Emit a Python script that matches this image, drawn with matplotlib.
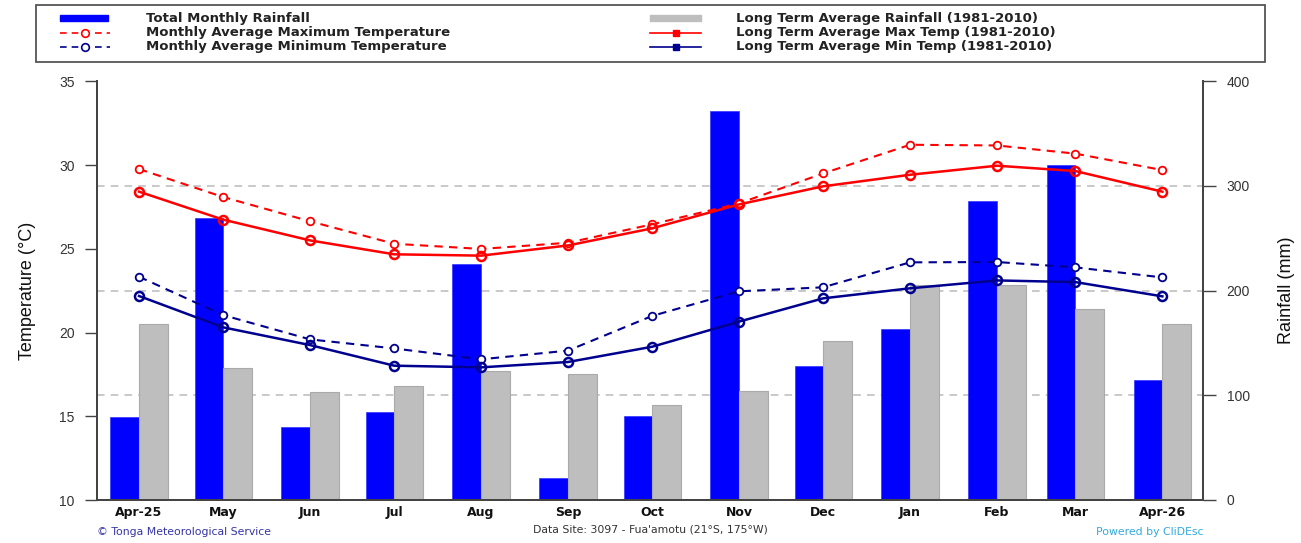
import numpy as np
import matplotlib
matplotlib.use("Agg")
import matplotlib.pyplot as plt
from matplotlib.lines import Line2D
from matplotlib.patches import Rectangle

plt.rcParams['font.family'] = ['Liberation Sans', 'DejaVu Sans']

# ---------------- data ----------------
month_starts = ['2025-04-01', '2025-05-01', '2025-06-01', '2025-07-01', '2025-08-01',
                '2025-09-01', '2025-10-01', '2025-11-01', '2025-12-01', '2026-01-01',
                '2026-02-01', '2026-03-01', '2026-04-01']
month_labels = ['Apr-25', 'May', 'Jun', 'Jul', 'Aug', 'Sep', 'Oct', 'Nov', 'Dec',
                'Jan', 'Feb', 'Mar', 'Apr-26']

rain_total = [79.6, 269.1, 69.7, 83.8, 225.5, 20.7, 79.9, 371.7, 128.0, 163.4, 286.0, 320.1, 115.0]
rain_lta = [167.8, 126.4, 103.2, 108.9, 123.2, 120.7, 90.8, 104.1, 152.2, 205.4, 205.1, 182.2, 167.8]

tmax_month = [29.76, 28.09, 26.64, 25.30, 24.99, 25.36, 26.46, 27.71, 29.50, 31.21, 31.17, 30.68, 29.70]
tmin_month = [23.33, 21.04, 19.59, 19.05, 18.40, 18.92, 20.99, 22.46, 22.70, 24.19, 24.21, 23.89, 23.29]
tmax_lta = [28.41, 26.74, 25.50, 24.67, 24.59, 25.20, 26.22, 27.65, 28.73, 29.42, 29.96, 29.64, 28.41]
tmin_lta = [22.18, 20.31, 19.25, 18.02, 17.92, 18.24, 19.15, 20.65, 22.04, 22.64, 23.11, 23.01, 22.16]

temp_ticks = [10, 15, 20, 25, 30, 35]
rain_ticks = [0, 100, 200, 300, 400]
rain_grid = [100, 200, 300]

legend_left = ['Total Monthly Rainfall', 'Monthly Average Maximum Temperature',
               'Monthly Average Minimum Temperature']
legend_right = ['Long Term Average Rainfall (1981-2010)', 'Long Term Average Max Temp (1981-2010)',
                'Long Term Average Min Temp (1981-2010)']

# ---------------- styles ----------------
BLUE = '#0000FF'
GREY = '#BEBEBE'
RED = '#FF0000'
NAVY = '#00008F'
TXT = '#333333'
WIDE = ['DejaVu Sans']

W, H = 1301, 543
fig = plt.figure(figsize=(W / 100, H / 100), dpi=100)


def fx(x):
    return x / W


def fy(y):
    return 1 - y / H


ax_left, ax_right, ax_top, ax_bot = 97, 1203, 81.3, 500
ax = fig.add_axes([fx(ax_left), fy(ax_bot), (ax_right - ax_left) / W, (ax_bot - ax_top) / H])
ax2 = ax.twinx()

dates = np.array(month_starts, dtype='datetime64[D]')
xpos = (dates - dates[0]).astype(int)
bar_w = 10.2

# rainfall on right axis (drawn underneath)
for g in rain_grid:
    ax2.axhline(g, color='#BBBBBB', lw=1.1, ls=(0, (5, 4)), zorder=0)
ax2.bar(xpos, rain_total, width=-bar_w, align='edge', color=BLUE, edgecolor='#3333FF',
        linewidth=0.5, zorder=2)
ax2.bar(xpos, rain_lta, width=bar_w, align='edge', color=GREY, edgecolor='#AAAAAA',
        linewidth=0.8, zorder=2)
ax2.set_ylim(0, 400)
ax2.set_yticks(rain_ticks)
ax2.set_ylabel('Rainfall (mm)', fontsize=13, color='#111111', labelpad=20)

# temperatures on left axis (drawn on top)
ax.set_zorder(ax2.get_zorder() + 1)
ax.patch.set_visible(False)
ax.plot(xpos, tmax_month, color=RED, lw=1.5, ls=(0, (4, 3)), marker='o', ms=5.5,
        mfc='white', mec=RED, mew=1.3, zorder=3)
ax.plot(xpos, tmin_month, color=NAVY, lw=1.5, ls=(0, (4, 3)), marker='o', ms=5.5,
        mfc='white', mec=NAVY, mew=1.3, zorder=3)
ax.plot(xpos, tmax_lta, color=RED, lw=1.8, marker='o', ms=6.5, mfc='none', mec=RED,
        mew=1.8, zorder=4)
ax.plot(xpos, tmin_lta, color=NAVY, lw=1.8, marker='o', ms=6.5, mfc='none', mec=NAVY,
        mew=1.8, zorder=4)
ax.set_ylim(10, 35)
ax.set_yticks(temp_ticks)
ax.set_ylabel('Temperature (\u00b0C)', fontsize=13, color='#111111', labelpad=17)
ax.set_xlim(-15, 365 + 14.5)
ax.set_xticks(xpos)
ax.set_xticklabels(month_labels, fontsize=9, fontweight='bold', color='#111111',
                   family=WIDE)

for a in (ax, ax2):
    a.spines['top'].set_visible(False)
    for s in ('left', 'right', 'bottom'):
        a.spines[s].set_color('#444444')
        a.spines[s].set_linewidth(1.4)
ax.tick_params(axis='y', direction='out', length=9, width=1.0, colors='#444444',
               labelcolor=TXT, labelsize=10, pad=7)
ax2.tick_params(axis='y', direction='out', length=9, width=1.0, colors='#444444',
                labelcolor=TXT, labelsize=10, pad=8)
ax.tick_params(axis='x', length=0, pad=4)
ax2.tick_params(axis='x', length=0)

# ---------------- legend (manual) ----------------
fig.patches.append(Rectangle((fx(36), fy(61.7)), (1265 - 36) / W, (61.7 - 5) / H,
                             transform=fig.transFigure, fill=False, edgecolor='#555555',
                             lw=1.3))
rows = [18.3, 32.7, 46.7]
# left column
fig.patches.append(Rectangle((fx(60), fy(rows[0] + 3)), 48 / W, 6 / H,
                             transform=fig.transFigure, color=BLUE))
for r, c in zip(rows[1:], (RED, NAVY)):
    fig.lines.append(Line2D([fx(60), fx(110)], [fy(r), fy(r)], transform=fig.transFigure,
                            color=c, lw=1.2, ls=(0, (4, 3))))
    fig.lines.append(Line2D([fx(85)], [fy(r)], transform=fig.transFigure, color=c,
                            marker='o', ms=5.5, mfc='white', mec=c, mew=1.2))
for r, t in zip(rows, legend_left):
    fig.text(fx(146.5), fy(r), t, fontsize=9.5, fontweight='bold', color='#222222',
             ha='left', va='center', family=WIDE)
# right column
fig.patches.append(Rectangle((fx(650), fy(rows[0] + 3)), 51 / W, 6 / H,
                             transform=fig.transFigure, color=GREY))
for r, c in zip(rows[1:], (RED, NAVY)):
    fig.lines.append(Line2D([fx(650), fx(701)], [fy(r), fy(r)], transform=fig.transFigure,
                            color=c, lw=1.2))
    fig.lines.append(Line2D([fx(676)], [fy(r)], transform=fig.transFigure, color=c,
                            marker='s', ms=4.5, mfc=c, mec=c))
for r, t in zip(rows, legend_right):
    fig.text(fx(736.5), fy(r), t, fontsize=9.5, fontweight='bold', color='#222222',
             ha='left', va='center', family=WIDE)

# ---------------- footer ----------------
fig.text(fx(97), fy(532), '\u00a9 Tonga Meteorological Service', fontsize=7.8,
         color='#3333AA', ha='left', va='center', family=WIDE)
fig.text(fx(650), fy(530), "Data Site: 3097 - Fua'amotu (21\u00b0S, 175\u00b0W)", fontsize=7.8,
         color='#333333', ha='center', va='center', family=WIDE)
fig.text(fx(1203), fy(532), 'Powered by CliDEsc', fontsize=7.8, color='#33AADD',
         ha='right', va='center', family=WIDE)

fig.savefig('out.png', dpi=100, facecolor='white')
